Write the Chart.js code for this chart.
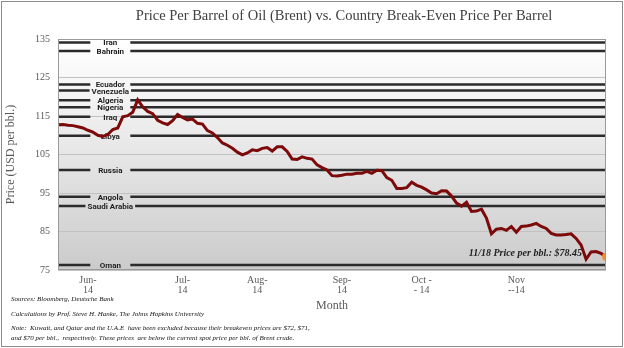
<!DOCTYPE html>
<html>
<head>
<meta charset="utf-8">
<script src="https://cdn.jsdelivr.net/npm/chart.js@4.4.1/dist/chart.umd.min.js"></script>
<style>
  html, body { margin: 0; padding: 0; background: #fff; }
  canvas { display: block; }
</style>
</head>
<body>
<canvas id="oil" width="624" height="348"></canvas>
<script>
// Brent daily price (Jun 2014 - 18 Nov 2014)
const prices = [
  112.7, 112.8, 112.6, 112.5, 112.2, 111.9, 111.3, 110.8, 110.0, 109.7,
  110.2, 111.5, 111.9, 114.8, 115.1, 116.0, 119.2, 117.4, 116.2, 115.6,
  113.9, 113.2, 112.8, 113.8, 115.4, 114.6, 114.0, 114.2, 113.1, 112.9,
  111.2, 110.6, 109.4, 108.0, 107.4, 106.6, 105.6, 104.9, 105.4, 106.2,
  106.0, 106.6, 106.8, 105.9, 107.0, 107.0, 105.8, 103.8, 103.7, 104.4,
  104.0, 103.8, 102.3, 101.6, 101.0, 99.5, 99.4, 99.6, 99.9, 99.9,
  100.1, 100.1, 100.6, 100.1, 100.9, 100.8, 99.0, 98.3, 96.2, 96.2,
  96.4, 97.8, 97.0, 96.5, 95.8, 95.0, 94.8, 95.6, 95.5, 94.2,
  92.4, 91.6, 92.6, 90.2, 90.3, 90.8, 88.5, 84.4, 85.6, 85.8,
  85.3, 86.3, 84.8, 86.3, 86.4, 86.7, 87.1, 86.3, 85.8, 84.5,
  84.1, 84.1, 84.2, 84.4, 83.2, 81.5, 77.8, 79.7, 79.8, 79.3, 78.45
];

// where the month labels sit (trading day index) and their text
const monthIdx = [6, 25, 40, 57, 73, 92];
const monthLabels = [['Jun-', '14'], ['Jul-', '14'], ['Aug-', '14'], ['Sep-', '14'], ['Oct -', '- 14'], ['Nov', '--14']];

// country break-even prices
const countries = ['Iran', 'Bahrain', 'Ecuador', 'Venezuela', 'Algeria', 'Nigeria', 'Iraq', 'Libya', 'Russia', 'Angola', 'Saudi Arabia', 'Oman'];
const breakEven = [134.1, 131.9, 123.2, 121.6, 119.1, 117.3, 114.8, 109.9, 101.0, 94.0, 91.6, 76.3];

const lastLabel = '11/18 Price per bbl.: $78.45';
const notes = [
  'Sources: Bloomberg, Deutsche Bank',
  'Calculations by Prof. Steve H. Hanke, The Johns Hopkins University',
  'Note:  Kuwait, and Qatar and the U.A.E  have been excluded because their breakeven prices are $72, $71,',
  'and $70 per bbl.,  respectively. These prices  are below the current spot price per bbl. of Brent crude.'
];

const SERIF = '"Liberation Serif", "DejaVu Serif", serif';
const last = prices.length - 1;

// gradient behind the plot, frame round the picture, texts
const backdrop = {
  id: 'backdrop',
  beforeDraw(chart) {
    const {ctx, chartArea: a} = chart;
    ctx.save();
    const g = ctx.createLinearGradient(0, a.top, 0, a.bottom);
    g.addColorStop(0, '#ffffff');
    g.addColorStop(0.2, '#f6f6f6');
    g.addColorStop(1, '#cbcbcb');
    ctx.fillStyle = g;
    ctx.fillRect(a.left, a.top, a.right - a.left, a.bottom - a.top);
    ctx.strokeStyle = '#8c8c8c';
    ctx.lineWidth = 1;
    ctx.strokeRect(1.5, 1.5, chart.width - 3, chart.height - 3);
    ctx.restore();
  },
  afterDraw(chart) {
    const {ctx, chartArea: a} = chart;
    ctx.save();
    ctx.strokeStyle = '#9a9a9a';
    ctx.lineWidth = 1;
    ctx.strokeRect(a.left + 0.5, a.top + 0.5, a.right - a.left - 1, a.bottom - a.top - 1);
    // title
    ctx.fillStyle = '#404040';
    ctx.font = '14.5px ' + SERIF;
    ctx.textAlign = 'center';
    ctx.textBaseline = 'middle';
    ctx.fillText('Price Per Barrel of Oil (Brent) vs. Country Break-Even Price Per Barrel', 344, 16);
    // footnotes
    ctx.fillStyle = '#111';
    ctx.textAlign = 'left';
    ctx.font = 'italic 7px ' + SERIF;
    const ys = [299, 314, 328, 338];
    notes.forEach((t, i) => ctx.fillText(t, 11, ys[i]));
    // last price note
    const {x, y} = chart.scales;
    ctx.font = 'bold italic 10px ' + SERIF;
    ctx.textAlign = 'right';
    ctx.fillStyle = '#222';
    ctx.fillText(lastLabel, x.getPixelForValue(last) - 24, y.getPixelForValue(prices[last]) - 3);
    ctx.restore();
  }
};

// horizontal break-even lines with the country name in a gap
const breakEvenLines = {
  id: 'breakEvenLines',
  beforeDatasetsDraw(chart) {
    const {ctx, chartArea: a, scales: {x, y}} = chart;
    const cx = x.getPixelForValue(10.5);
    ctx.save();
    ctx.font = 'bold 8px "Liberation Sans Narrow", Roboto, sans-serif';
    ctx.textAlign = 'center';
    ctx.textBaseline = 'middle';
    countries.forEach((name, i) => {
      const py = y.getPixelForValue(breakEven[i]);
      const half = Math.max(20, ctx.measureText(name).width / 2 + 2);
      ctx.strokeStyle = '#2b2b2b';
      ctx.lineWidth = 2.5;
      ctx.beginPath();
      ctx.moveTo(a.left, py);
      ctx.lineTo(cx - half, py);
      ctx.moveTo(cx + half, py);
      ctx.lineTo(a.right, py);
      ctx.stroke();
      ctx.fillStyle = '#1f1f1f';
      ctx.fillText(name, cx, py + 1);
    });
    ctx.restore();
  }
};

new Chart(document.getElementById('oil'), {
  type: 'line',
  data: {
    datasets: [{
      label: 'Brent',
      data: prices.map((p, i) => ({x: i, y: p})),
      borderColor: '#7d0a0a',
      borderWidth: 3,
      tension: 0,
      pointRadius: (c) => c.dataIndex === last ? 4 : 0,
      pointBackgroundColor: '#f28c3c',
      pointBorderWidth: 0
    }]
  },
  options: {
    responsive: false,
    animation: false,
    layout: {padding: {left: 4, right: 18, top: 39, bottom: 35}},
    plugins: {legend: {display: false}, tooltip: {enabled: false}},
    scales: {
      x: {
        type: 'linear',
        min: 0,
        max: last,
        grid: {display: false, drawTicks: false},
        border: {display: false},
        afterBuildTicks: (s) => { s.ticks = monthIdx.map(v => ({value: v})); },
        afterFit: (s) => { s.height = 43; },
        ticks: {
          maxRotation: 0,
          autoSkip: false,
          padding: 6,
          color: '#595959',
          font: {family: SERIF, size: 10, lineHeight: 0.95},
          callback: (v) => monthLabels[monthIdx.indexOf(v)]
        },
        title: {display: true, text: 'Month', color: '#595959', font: {family: SERIF, size: 12}, padding: 0}
      },
      y: {
        min: 75,
        max: 135,
        afterFit: (s) => { s.width = 54; },
        grid: {color: '#c2c2c2', drawTicks: false},
        border: {display: false},
        ticks: {stepSize: 10, padding: 8, color: '#595959', font: {family: SERIF, size: 10}},
        title: {display: true, text: 'Price (USD per bbl.)', color: '#595959', font: {family: SERIF, size: 12}, padding: 0}
      }
    }
  },
  plugins: [backdrop, breakEvenLines]
});
</script>
</body>
</html>
